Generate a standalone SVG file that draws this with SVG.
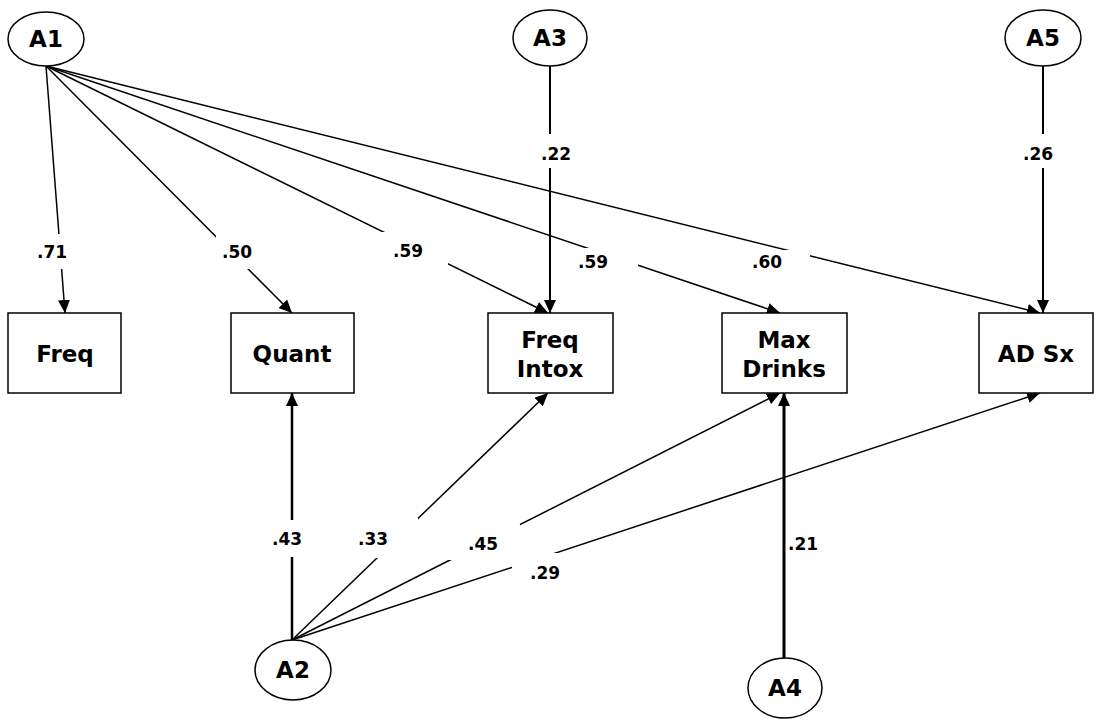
<svg xmlns="http://www.w3.org/2000/svg" width="1096" height="719" viewBox="0 0 1096 719">
  <style>
    .node { fill: #fff; stroke: #000; stroke-width: 1.5; }
    .name { font-family: "DejaVu Sans", Verdana, sans-serif; font-weight: bold; font-size: 23px; text-anchor: middle; fill: #000; }
    .path { stroke: #000; stroke-width: 1.5; fill: none; marker-end: url(#head); }
    .bold { stroke-width: 2.5; }
    .lbl { font-family: "DejaVu Sans", Verdana, sans-serif; font-weight: bold; font-size: 17px; text-anchor: middle; fill: #000; }
    .bg { fill: #fff; }
  </style>
  <defs>
    <marker id="head" markerUnits="userSpaceOnUse" markerWidth="14" markerHeight="12" refX="13" refY="6" orient="auto">
      <path d="M0,0 L13,6 L0,12 Z" fill="#000"/>
    </marker>
  </defs>
  <rect width="1096" height="719" fill="#fff"/>

  <!-- path arrows between latent factors and indicators -->
  <g id="connectors">
    <line class="path" x1="46" y1="66" x2="65" y2="313"/>
    <line class="path" x1="46" y1="66" x2="292" y2="313"/>
    <line class="path" x1="46" y1="66" x2="548" y2="313"/>
    <line class="path" x1="46" y1="66" x2="780" y2="313"/>
    <line class="path" x1="46" y1="66" x2="1040" y2="313"/>
    <line class="path" x1="550" y1="66" x2="550" y2="313" style="stroke-width:2"/>
    <line class="path" x1="1043" y1="66" x2="1043" y2="313" style="stroke-width:2"/>
    <line class="path bold" x1="292" y1="640" x2="292" y2="393"/>
    <line class="path" x1="292" y1="640" x2="548" y2="393"/>
    <line class="path" x1="292" y1="640" x2="780" y2="393"/>
    <line class="path" x1="292" y1="640" x2="1040" y2="393"/>
    <line class="path" x1="784" y1="659" x2="784" y2="393" style="stroke-width:3"/>
  </g>

  <!-- loadings, with white knock-outs breaking the lines -->
  <g id="labels">
    <rect class="bg" x="34" y="234" width="36" height="35"/>
    <text class="lbl" x="52" y="258">.71</text>
    <rect class="bg" x="216" y="235" width="40" height="34"/>
    <text class="lbl" x="237" y="258">.50</text>
    <rect class="bg" x="374" y="232" width="74" height="34"/>
    <text class="lbl" x="408" y="257">.59</text>
    <rect class="bg" x="558" y="248" width="80" height="26"/>
    <text class="lbl" x="593" y="268">.59</text>
    <rect class="bg" x="722" y="250" width="88" height="24"/>
    <text class="lbl" x="767" y="268">.60</text>
    <rect class="bg" x="536" y="134" width="38" height="34"/>
    <text class="lbl" x="556" y="160">.22</text>
    <rect class="bg" x="1020" y="134" width="38" height="34"/>
    <text class="lbl" x="1038" y="160">.26</text>
    <rect class="bg" x="268" y="520" width="40" height="37"/>
    <text class="lbl" x="287" y="545">.43</text>
    <rect class="bg" x="352" y="518" width="66" height="40"/>
    <text class="lbl" x="373" y="545">.33</text>
    <rect class="bg" x="448" y="524" width="72" height="36"/>
    <text class="lbl" x="483" y="550">.45</text>
    <rect class="bg" x="512" y="553" width="50" height="30"/>
    <text class="lbl" x="545" y="579">.29</text>
    <text class="lbl" x="803" y="550">.21</text>
  </g>

  <g id="A1">
    <ellipse class="node" cx="46" cy="39" rx="38" ry="27"/>
    <text class="name" x="46" y="47">A1</text>
  </g>
  <g id="A3">
    <ellipse class="node" cx="550" cy="38" rx="37" ry="28"/>
    <text class="name" x="550" y="46">A3</text>
  </g>
  <g id="A5">
    <ellipse class="node" cx="1043" cy="38" rx="38" ry="28"/>
    <text class="name" x="1043" y="46">A5</text>
  </g>
  <g id="A2">
    <ellipse class="node" cx="293" cy="670" rx="38" ry="30"/>
    <text class="name" x="293" y="678">A2</text>
  </g>
  <g id="A4">
    <ellipse class="node" cx="785" cy="688" rx="37" ry="30"/>
    <text class="name" x="785" y="696">A4</text>
  </g>

  <g id="Freq">
    <rect class="node" x="8" y="313" width="113" height="80"/>
    <text class="name" x="65" y="362">Freq</text>
  </g>
  <g id="Quant">
    <rect class="node" x="231" y="313" width="123" height="80"/>
    <text class="name" x="292" y="362">Quant</text>
  </g>
  <g id="FreqIntox">
    <rect class="node" x="488" y="313" width="125" height="80"/>
    <text class="name" x="550" y="348">Freq</text>
    <text class="name" x="550" y="377">Intox</text>
  </g>
  <g id="MaxDrinks">
    <rect class="node" x="722" y="313" width="125" height="80"/>
    <text class="name" x="784" y="348">Max</text>
    <text class="name" x="784" y="377">Drinks</text>
  </g>
  <g id="ADSx">
    <rect class="node" x="979" y="313" width="114" height="80"/>
    <text class="name" x="1036" y="362">AD Sx</text>
  </g>
</svg>
